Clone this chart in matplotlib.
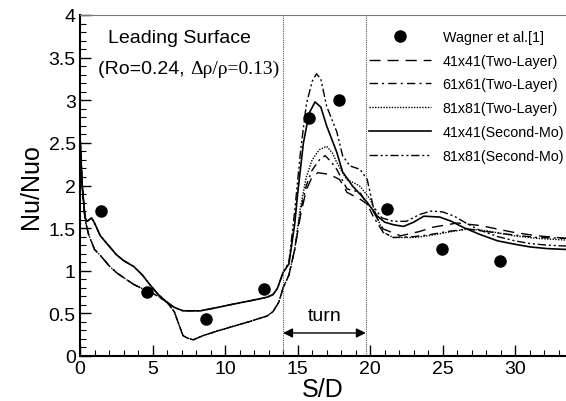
import numpy as np
import matplotlib
matplotlib.use("Agg")
import matplotlib.pyplot as plt
from matplotlib.ticker import MultipleLocator

plt.rcParams['font.family'] = ['Liberation Sans', 'DejaVu Sans']

# ---------------- data ----------------
exp_x = [1.45, 4.65, 8.7, 12.7, 15.8, 17.85, 21.15, 24.95, 28.95]
exp_y = [1.70, 0.75, 0.43, 0.79, 2.79, 3.00, 1.73, 1.26, 1.11]

# first leg (shared by the curves of each model)
leg1_x = [0.0, 0.15, 0.35, 0.5, 0.8, 1.0, 1.4, 2.0, 2.5, 3.0, 3.7, 4.3, 4.8,
          5.4, 6.0, 6.5, 7.1, 8.3, 9.5, 10.6, 11.8, 12.9, 13.3, 13.6]
second_mo_leg1 = [2.6, 2.0, 1.62, 1.58, 1.62, 1.56, 1.41, 1.29, 1.19, 1.12, 1.05,
                  0.95, 0.84, 0.72, 0.63, 0.57, 0.53, 0.53, 0.57, 0.61, 0.65,
                  0.69, 0.72, 0.79]
leg1_x_tl = [0.0, 0.15, 0.35, 0.6, 1.0, 1.4, 2.0, 2.5, 3.0, 3.7, 4.3, 4.8, 5.4,
             6.0, 6.5, 6.9, 7.1, 7.4, 7.8, 8.5, 9.4, 10.6, 11.8, 12.9, 13.3, 13.7]
two_layer_leg1 = [2.6, 2.0, 1.6, 1.42, 1.25, 1.18, 1.06, 0.98, 0.92, 0.84, 0.79,
                  0.75, 0.70, 0.63, 0.52, 0.33, 0.24, 0.21, 0.19, 0.24, 0.29,
                  0.35, 0.41, 0.47, 0.52, 0.63]

# turn and second leg
tl41_x = [14.0, 14.4, 14.8, 15.2, 15.6, 16.0, 16.4, 17.2, 17.9, 18.4, 19.3, 20.0,
          20.9, 22.1, 23.4, 24.3, 26.0, 27.6, 29.9, 31.5, 33.5]
tl41_y = [0.80, 0.95, 1.25, 1.65, 1.95, 2.10, 2.15, 2.13, 2.07, 1.92, 1.84, 1.76,
          1.49, 1.41, 1.46, 1.51, 1.56, 1.53, 1.45, 1.41, 1.38]

tl61_x = [14.0, 14.4, 14.8, 15.2, 15.6, 16.0, 16.5, 16.9, 17.3, 17.7, 18.4, 19.3,
          19.8, 20.2, 20.9, 21.6, 23.0, 24.0, 25.3, 26.7, 28.0, 29.9, 31.5, 33.5]
tl61_y = [0.80, 0.95, 1.25, 1.70, 2.00, 2.18, 2.30, 2.35, 2.28, 2.19, 1.96, 1.92,
          1.78, 1.64, 1.45, 1.39, 1.40, 1.42, 1.46, 1.49, 1.46, 1.42, 1.39, 1.38]

tl81_x = [14.0, 14.4, 14.8, 15.2, 15.6, 16.0, 16.5, 17.0, 17.4, 17.7, 18.1, 18.4,
          19.0, 19.3, 20.0, 20.5, 20.9, 21.6, 23.0, 24.0, 25.3, 26.7, 28.0, 29.9,
          31.5, 33.5]
tl81_y = [0.80, 0.95, 1.25, 1.75, 2.10, 2.30, 2.42, 2.46, 2.38, 2.27, 2.15, 2.07,
          2.02, 1.99, 1.84, 1.62, 1.45, 1.39, 1.39, 1.41, 1.45, 1.49, 1.47, 1.41,
          1.38, 1.36]

sm41_x = [14.0, 14.4, 14.8, 15.0, 15.4, 15.8, 16.2, 16.6, 17.0, 17.7, 18.1, 18.8,
          19.3, 19.8, 20.5, 21.0, 21.6, 22.3, 23.0, 23.7, 24.8, 25.6, 26.4, 27.5,
          28.8, 30.0, 31.0, 32.2, 33.5]
sm41_y = [0.98, 1.08, 1.55, 1.90, 2.50, 2.85, 2.98, 2.92, 2.70, 2.39, 2.16, 1.99,
          1.90, 1.80, 1.64, 1.57, 1.54, 1.52, 1.57, 1.64, 1.63, 1.58, 1.51, 1.43,
          1.35, 1.31, 1.28, 1.26, 1.25]

sm81_x = [14.0, 14.4, 14.8, 15.2, 15.6, 16.0, 16.3, 16.6, 17.0, 17.7, 18.1, 18.6,
          19.3, 19.8, 20.2, 20.8, 21.6, 22.5, 23.4, 24.2, 25.0, 25.8, 26.6, 27.5,
          28.8, 30.0, 31.0, 32.2, 33.5]
sm81_y = [0.98, 1.10, 1.70, 2.40, 2.95, 3.22, 3.31, 3.25, 2.93, 2.63, 2.35, 2.23,
          2.19, 2.07, 1.76, 1.62, 1.58, 1.58, 1.66, 1.70, 1.69, 1.64, 1.56, 1.48,
          1.40, 1.35, 1.32, 1.30, 1.29]

labels = ['Wagner et al.[1]', '41x41(Two-Layer)', '61x61(Two-Layer)',
          '81x81(Two-Layer)', '41x41(Second-Mo)', '81x81(Second-Mo)']

turn_start, turn_end = 14.0, 19.7

# ---------------- figure ----------------
W, H = 566, 402
fig = plt.figure(figsize=(W / 100, H / 100), dpi=100)
ax = fig.add_axes([80 / W, 1 - 357 / H, (W - 80) / W, (357 - 16) / H])

lw = 1.0
ax.plot(leg1_x_tl + tl41_x, two_layer_leg1 + tl41_y, color='k', lw=lw,
        dashes=(8, 5), label=labels[1])
ax.plot(leg1_x_tl + tl61_x, two_layer_leg1 + tl61_y, color='k', lw=lw,
        dashes=(6, 3, 1.5, 3), label=labels[2])
ax.plot(leg1_x_tl + tl81_x, two_layer_leg1 + tl81_y, color='k', lw=lw,
        dashes=(1, 1), label=labels[3])
ax.plot(leg1_x + sm41_x, second_mo_leg1 + sm41_y, color='k', lw=1.2,
        linestyle='-', label=labels[4])
ax.plot(leg1_x + sm81_x, second_mo_leg1 + sm81_y, color='k', lw=lw,
        dashes=(6, 2, 1.5, 2, 1.5, 2), label=labels[5])
ax.plot(exp_x, exp_y, 'o', color='k', markersize=8, linestyle='none',
        label=labels[0])

ax.axvline(turn_start, color='#555555', lw=0.8, ls=(0, (1, 1)))
ax.axvline(turn_end, color='#555555', lw=0.8, ls=(0, (1, 1)))

ax.annotate('', xy=(turn_start, 0.27), xytext=(turn_end, 0.27),
            arrowprops=dict(arrowstyle='<|-|>', color='k', lw=1.0,
                            mutation_scale=14, shrinkA=0, shrinkB=0))
ax.text((turn_start + turn_end) / 2, 0.47, 'turn', ha='center', va='center',
        fontsize=14)

ax.text(1.9, 3.74, 'Leading Surface', fontsize=14, ha='left', va='center')
t1 = ax.text(1.25, 3.37, '(Ro=0.24, ', fontsize=14, ha='left', va='center')
ax.annotate('\u0394\u03c1/\u03c1=0.13)', xy=(1, 0.5), xycoords=t1,
            ha='left', va='center', fontsize=14, family='Liberation Serif')

ax.set_xlim(0, 33.5)
ax.set_ylim(0, 4)
ax.xaxis.set_major_locator(MultipleLocator(5))
ax.xaxis.set_minor_locator(MultipleLocator(1))
ax.yaxis.set_major_locator(MultipleLocator(0.5))
ax.yaxis.set_minor_locator(MultipleLocator(0.1))
ax.set_yticks([0, 0.5, 1, 1.5, 2, 2.5, 3, 3.5, 4])
ax.set_yticklabels(['0', '0.5', '1', '1.5', '2', '2.5', '3', '3.5', '4'])
ax.tick_params(which='major', direction='in', length=8, width=1.0,
               labelsize=14, top=False, right=False, pad=3)
ax.tick_params(which='minor', direction='in', length=4, width=0.8,
               top=False, right=False)

ax.spines['right'].set_visible(False)
ax.spines['top'].set_color('#777777')
ax.spines['top'].set_linewidth(0.8)
ax.spines['left'].set_linewidth(1.5)
ax.spines['bottom'].set_linewidth(1.5)

ax.set_xlabel('S/D', fontsize=18, labelpad=0)
ax.set_ylabel('Nu/Nuo', fontsize=18, labelpad=4)

handles, labs = ax.get_legend_handles_labels()
order = [labs.index(l) for l in labels]
leg = fig.legend([handles[i] for i in order], [labs[i] for i in order],
                 loc='upper left', bbox_to_anchor=(369 / W, 1 - 31 / H),
                 frameon=False, fontsize=10.3, handlelength=4.3,
                 handletextpad=0.85, labelspacing=0.68, borderpad=0,
                 borderaxespad=0, numpoints=1)

fig.savefig('out.png', dpi=100)
